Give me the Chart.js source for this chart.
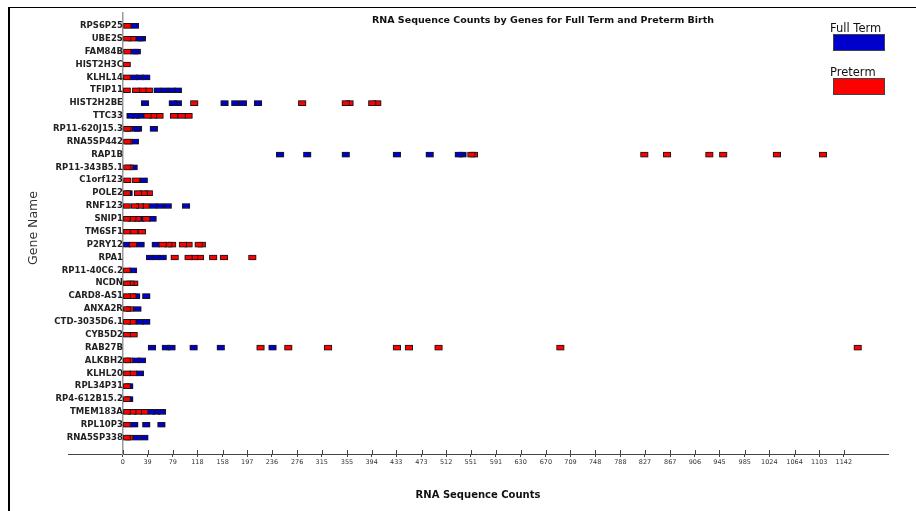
<!DOCTYPE html>
<html><head><meta charset="utf-8">
<script src="https://cdn.jsdelivr.net/npm/chart.js@4.4.1/dist/chart.umd.min.js"></script>
<style>
html,body{margin:0;padding:0;background:#fff;overflow:hidden}
#wrap{position:relative;width:916px;height:511px}
#frame{position:absolute;left:8px;top:7px;width:1000px;height:1000px;border-left:2px solid #000;border-top:1px solid #000;pointer-events:none}
canvas{position:absolute;left:0;top:0}
</style></head><body>
<div id="wrap"><canvas id="c" width="916" height="511"></canvas><div id="frame"></div></div>
<script>
const chartTitle = 'RNA Sequence Counts by Genes for Full Term and Preterm Birth';
const xTitle = 'RNA Sequence Counts';
const yTitle = 'Gene Name';
const seriesNames = ['Full Term', 'Preterm'];

const genes = ['RPS6P25','UBE2S','FAM84B','HIST2H3C','KLHL14','TFIP11','HIST2H2BE','TTC33','RP11-620J15.3','RNA5SP442','RAP1B','RP11-343B5.1','C1orf123','POLE2','RNF123','SNIP1','TM6SF1','P2RY12','RPA1','RP11-40C6.2','NCDN','CARD8-AS1','ANXA2R','CTD-3035D6.1','CYB5D2','RAB27B','ALKBH2','KLHL20','RPL34P31','RP4-612B15.2','TMEM183A','RPL10P3','RNA5SP338'];

const fullTermCounts = [
  [19],
  [26, 30],
  [18, 22],
  [],
  [18, 27, 37],
  [55, 66, 77, 87],
  [35, 79, 87, 161, 178, 190, 214],
  [12, 20, 27],
  [21, 24, 49],
  [19],
  [249, 292, 353, 434, 486, 532, 538],
  [17],
  [33],
  [9],
  [48, 59, 71, 100],
  [28, 47],
  [],
  [6, 28, 52],
  [43, 53, 63],
  [16],
  [],
  [21, 37],
  [23],
  [27, 37],
  [],
  [46, 68, 77, 112, 155, 237],
  [21, 30],
  [27],
  [10],
  [10],
  [45, 53, 62],
  [18, 37, 61],
  [22, 34]
];

const pretermCounts = [
  [7],
  [7, 15],
  [7],
  [6],
  [6],
  [6, 21, 31, 41],
  [113, 284, 353, 359, 395, 403],
  [39, 48, 58, 81, 93, 104],
  [7, 9],
  [7, 9],
  [552, 556, 826, 862, 929, 951, 1036, 1109],
  [7, 10],
  [7, 21],
  [6, 24, 33, 41],
  [6, 19, 27, 36],
  [6, 15, 23, 37],
  [6, 18, 30],
  [16, 63, 72, 78, 95, 104, 120, 125],
  [82, 104, 113, 122, 143, 160, 205],
  [6],
  [6, 12, 18],
  [6, 15],
  [6, 11],
  [6, 15],
  [6, 17],
  [218, 262, 325, 434, 453, 500, 693, 1164],
  [6, 10],
  [6, 16],
  [6],
  [6],
  [6, 15, 24, 34],
  [6],
  [6, 10]
];

const xTickValues = [0,39,79,118,158,197,236,276,315,355,394,433,473,512,551,591,630,670,709,748,788,827,867,906,945,985,1024,1064,1103,1142];

const seriesColors = ['#0000cc', '#ff0000'];
const MARK_W = 12;

function buildDatasets(series, label, color) {
  const maxN = Math.max(...series.map(a => a.length));
  const out = [];
  for (let k = 0; k < maxN; k++) {
    const data = [];
    series.forEach((vals, i) => {
      if (k < vals.length) data.push({y: i, x: [vals[k] - MARK_W / 2, vals[k] + MARK_W / 2]});
    });
    out.push({
      label, data,
      backgroundColor: color,
      borderColor: '#1a1a1a',
      borderWidth: 1,
      borderSkipped: false,
      barThickness: 5,
      grouped: false
    });
  }
  return out;
}

// preterm first => drawn on top
const datasets = buildDatasets(pretermCounts, seriesNames[1], seriesColors[1])
  .concat(buildDatasets(fullTermCounts, seriesNames[0], seriesColors[0]));

const shadow = {
  id: 'shadow',
  beforeDatasetsDraw(chart) {
    const ctx = chart.ctx;
    ctx.save();
    ctx.shadowColor = 'rgba(0,0,0,0.45)';
    ctx.shadowBlur = 1.5;
  },
  afterDatasetsDraw(chart) { chart.ctx.restore(); }
};

const decor = {
  id: 'decor',
  afterDraw(chart) {
    const ctx = chart.ctx;
    const xs = chart.scales.x;
    ctx.save();
    // upper half of x tick marks (ticks cross the axis line)
    ctx.strokeStyle = '#444';
    ctx.lineWidth = 1;
    ctx.beginPath();
    xTickValues.forEach(v => {
      const px = Math.round(xs.getPixelForValue(v)) + 0.5;
      ctx.moveTo(px, xs.top - 4);
      ctx.lineTo(px, xs.top);
    });
    ctx.stroke();

    ctx.fillStyle = '#111';
    ctx.textAlign = 'center';
    ctx.textBaseline = 'middle';
    ctx.font = 'bold 9.5px "DejaVu Sans"';
    ctx.fillText(chartTitle, 543, 21);

    // legend
    ctx.textAlign = 'left';
    ctx.font = '11.5px "DejaVu Sans"';
    const entries = [[seriesNames[0], seriesColors[0], 29, 34], [seriesNames[1], seriesColors[1], 73, 78]];
    entries.forEach(([name, col, ty, by]) => {
      ctx.fillStyle = '#111';
      ctx.fillText(name, 830, ty);
      ctx.fillStyle = col;
      ctx.fillRect(833, by, 52, 17);
      ctx.strokeStyle = '#444';
      ctx.lineWidth = 1;
      ctx.strokeRect(833.5, by + 0.5, 51, 16);
    });

    // y title
    ctx.translate(34, 228);
    ctx.rotate(-Math.PI / 2);
    ctx.textAlign = 'center';
    ctx.fillStyle = '#333';
    ctx.font = '12.5px "DejaVu Sans"';
    ctx.fillText(yTitle, 0, 0);
    ctx.restore();
  }
};

new Chart(document.getElementById('c'), {
  type: 'bar',
  data: { datasets },
  options: {
    indexAxis: 'y',
    responsive: false,
    animation: false,
    layout: { padding: { left: 68, right: 28, top: 13, bottom: 0 } },
    plugins: { legend: { display: false }, title: { display: false }, tooltip: { enabled: false } },
    scales: {
      x: {
        type: 'linear', position: 'bottom', min: -87, max: 1212, offset: false,
        afterBuildTicks: s => { s.ticks = xTickValues.map(v => ({ value: v })); },
        afterFit: s => { s.height = 57; },
        grid: { display: true, drawOnChartArea: false, drawTicks: true, tickLength: 3, color: '#444' },
        border: { display: true, color: '#444', width: 1 },
        ticks: { autoSkip: false, maxRotation: 0, padding: 1, color: '#333',
                 font: { family: 'DejaVu Sans', size: 6.5 }, callback: v => String(v) },
        title: { display: true, text: xTitle, color: '#111',
                 font: { family: 'DejaVu Sans', size: 10, weight: 'bold' }, padding: { top: 4, bottom: 10 } }
      },
      y: {
        type: 'linear', position: { x: 0 }, min: -1.0, max: 33.27, reverse: true, offset: false,
        afterBuildTicks: s => { s.ticks = genes.map((g, i) => ({ value: i })); },
        grid: { display: false, offset: false },
        border: { display: true, color: '#999', width: 1.5 },
        ticks: { autoSkip: false, padding: 0, color: '#222',
                 font: { family: 'DejaVu Sans', size: 8.5, weight: 'bold' },
                 callback: v => genes[v] }
      }
    }
  },
  plugins: [shadow, decor]
});
</script>
</body></html>
